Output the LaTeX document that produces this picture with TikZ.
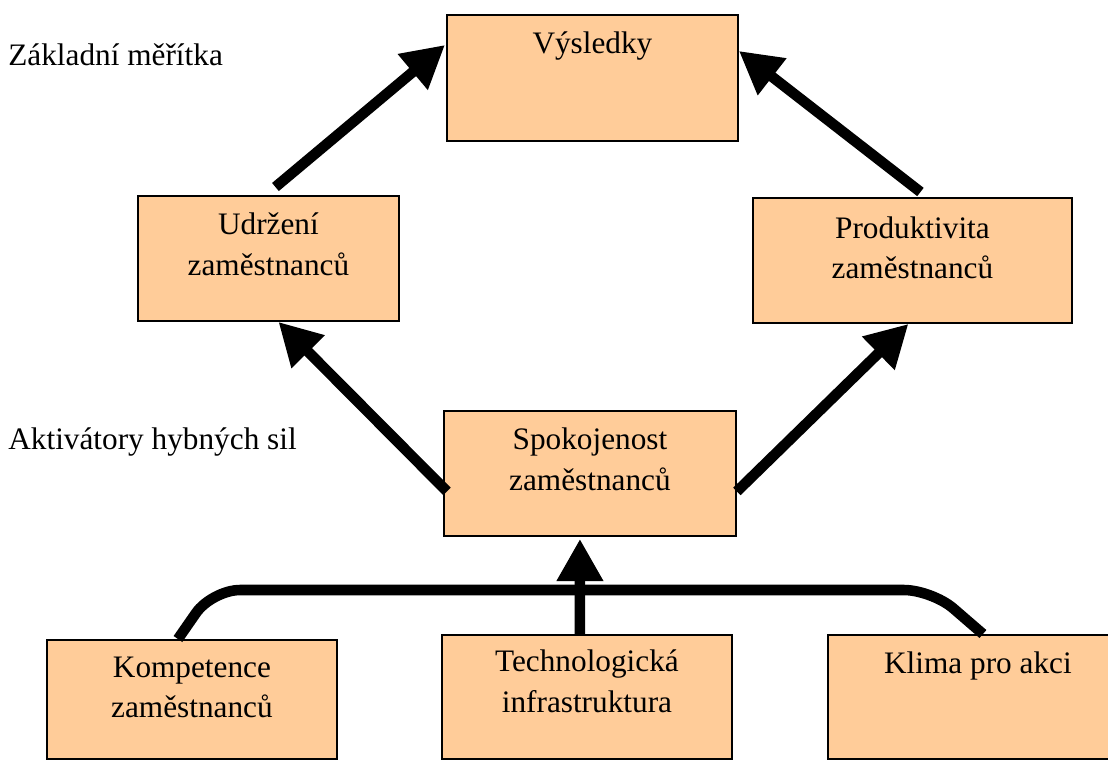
\documentclass[tikz,border=0pt]{standalone}
\usepackage{fontspec}
\setmainfont{Liberation Serif}
\usetikzlibrary{arrows.meta,positioning}
\definecolor{boxfill}{HTML}{FFCC99}
\tikzset{
  box/.style={draw, fill=boxfill, line width=1.1pt, anchor=north west,
    inner sep=0pt, minimum height=2.5cm},
  boxtext/.style={align=center, inner sep=0pt, font=\fontsize{17.8}{23}\selectfont},
  side/.style={anchor=west, inner sep=0pt, font=\fontsize{17.8}{23}\selectfont},
  fat/.style={line width=6pt},
  fatarrow/.style={fat, -{Triangle[length=24pt,width=25pt]}},
}
\begin{document}
\begin{tikzpicture}[x=0.02cm, y=-0.02cm]
  \useasboundingbox (0,0) rectangle (1108,760);
  \clip (0,0) rectangle (1108,760);
  % boxes
  \node[box, minimum width=5.82cm, minimum height=2.52cm] (res) at (446,14) {};
  \node[box, minimum width=5.22cm] (ret) at (137,195) {};
  \node[box, minimum width=6.38cm] (prod) at (752,197) {};
  \node[box, minimum width=5.84cm] (sat) at (443,410) {};
  \node[box, minimum width=5.8cm, minimum height=2.38cm] (comp) at (46,639) {};
  \node[box, minimum width=5.8cm, minimum height=2.48cm] (tech) at (441,634) {};
  \node[box, minimum width=6cm, minimum height=2.48cm] (clim) at (827,634) {};
  % texts
  \node[boxtext, below=10pt of res.north] (res-t) {Výsledky};
  \node[boxtext, below=10pt of ret.north] (ret-t) {Udržení\\zaměstnanců};
  \node[boxtext, below=11pt of prod.north] (prod-t) {Produktivita\\zaměstnanců};
  \node[boxtext, below=10pt of sat.north] (sat-t) {Spokojenost\\zaměstnanců};
  \node[boxtext, below=10pt of comp.north] (comp-t) {Kompetence\\zaměstnanců};
  \node[boxtext, below=9pt of tech.north] (tech-t) {Technologická\\infrastruktura};
  \node[boxtext, below=10pt of clim.north] (clim-t) {Klima pro akci};
  \node[side] (top-l) at (8,55) {Základní měřítka};
  \node[side] (mid-l) at (8,442) {Aktivátory hybných sil};
  % arrows
  \draw[fatarrow] ([shift={(7,-8)}]ret.north) -- ([shift={(-1,-33)}]res.west);
  \draw[fatarrow] ([shift={(8,-5)}]prod.north) -- ([shift={(0,-27)}]res.east);
  \draw[fatarrow] ([shift={(4,18)}]sat.west) -- ([shift={(10,0)}]ret.south);
  \draw[fatarrow] ([shift={(0,18)}]sat.east) -- ([shift={(-4,0)}]prod.south);
  \draw[fatarrow] ([shift={(-7,0)}]tech.north) -- ([shift={(-10,2)}]sat.south);
  % joint line
  \coordinate (bendl) at (212,590);
  \coordinate (bendr) at (932,590);
  \draw[fat, rounded corners=16pt] ([shift={(-14,0)}]comp.north) -- (bendl)
    -- (bendr) -- ([shift={(5,0)}]clim.north);
\end{tikzpicture}
\end{document}
